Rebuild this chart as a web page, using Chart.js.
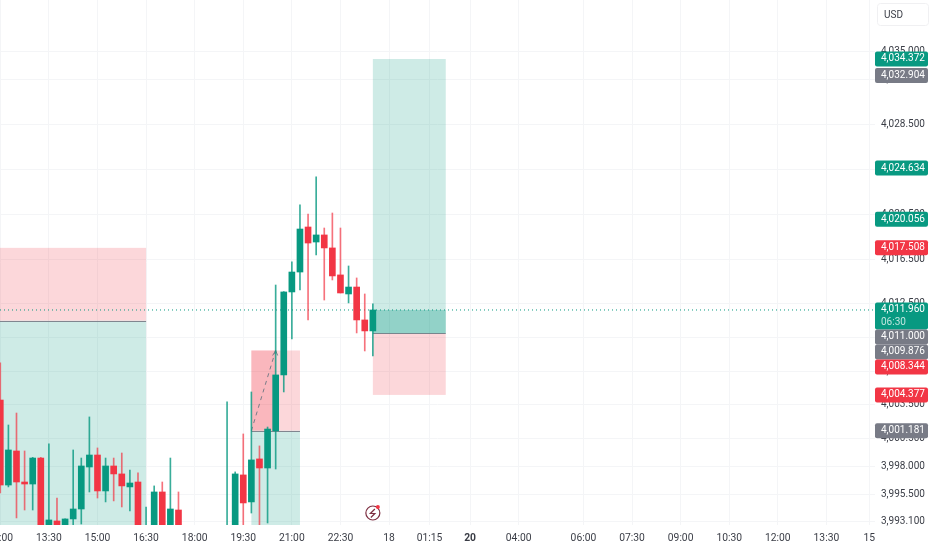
<!DOCTYPE html>
<html>
<head>
<meta charset="utf-8">
<style>
  html, body { margin: 0; padding: 0; background: #fff; }
  canvas { display: block; }
</style>
<script src="https://cdn.jsdelivr.net/npm/chart.js@4/dist/chart.umd.min.js"></script>
</head>
<body>
<canvas id="chart" width="932" height="550"></canvas>
<script>
// 15 minute candles, one entry per bar. null = bar sits fully below the visible range
const opens = [4003.92, 3996.33, 3999.37, 3996.60, 3996.42, 3998.74, 3992.30, 3993.12, 3992.40, 3993.30,
  3994.19, 3997.94, 3999.01, 3995.80, 3998.03, 3997.32, 3996.16, 3996.60, 3991.90, 3992.40,
  3995.71, 3992.50, 3994.10, null, null, null, null, null, 3991.60, 3992.40,
  3997.23, 3994.82, 3998.66, 3997.85, 4001.16, 4006.16, 4013.57, 4015.35, 4019.37, 4018.03,
  4018.66, 4017.50, 4015.09, 4013.39, 4014.01, 4011.07, 4010.09];
const closes = [3996.33, 3999.46, 3996.60, 3996.42, 3998.74, 3992.40, 3993.21, 3992.30, 3993.30, 3994.19,
  3998.03, 3999.01, 3995.80, 3998.03, 3997.32, 3996.25, 3996.51, 3992.40, 3992.50, 3995.71,
  3992.50, 3994.19, 3992.40, null, null, null, null, null, 3992.30, 3997.32,
  3994.73, 3998.57, 3997.85, 4001.33, 4006.16, 4013.57, 4015.35, 4019.19, 4017.94, 4018.66,
  4017.50, 4015.00, 4013.48, 4014.01, 4011.07, 4010.09, 4011.96];
const highs = [4007.23, 4001.69, 4002.76, 3999.37, 3998.80, 3998.80, 4000.00, 3995.17, 3993.30, 3999.46,
  3998.74, 4002.41, 3999.64, 3998.74, 3998.74, 3999.19, 3997.67, 3997.41, 3994.37, 3996.25,
  3996.60, 3998.74, 3995.71, null, null, null, null, null, 4003.75, 3997.50,
  4000.89, 4004.64, 3999.82, 4001.51, 4014.19, 4013.60, 4016.25, 4021.34, 4020.53, 4023.84,
  4019.28, 4020.62, 4019.28, 4015.89, 4014.82, 4013.39, 4012.50];
const lows = [3995.62, 3996.16, 3993.39, 3994.10, 3994.10, 3992.20, 3992.20, 3992.20, 3992.20, 3992.60,
  3992.85, 3995.71, 3995.17, 3994.82, 3994.91, 3994.37, 3994.01, 3992.20, 3991.50, 3992.10,
  3992.20, 3992.20, 3992.10, null, null, null, null, null, 3991.20, 3992.10,
  3992.30, 3993.83, 3992.40, 3992.94, 3997.76, 4004.64, 4009.37, 4013.75, 4011.07, 4016.87,
  4012.85, 4014.64, 4013.48, 4012.59, 4009.91, 4008.30, 4007.85];

const xTickBars = [0, 6, 12, 18, 24, 30, 36, 42, 48, 53, 58, 64, 72, 78, 84, 90, 96, 102, 107.3];
const xTickLabels = ['12:00', '13:30', '15:00', '16:30', '18:00', '19:30', '21:00', '22:30', '18', '01:15',
  '20', '04:00', '06:00', '07:30', '09:00', '10:30', '12:00', '13:30', '15'];
const boldXLabels = ['20'];
const yTickValues = [4035, 4032.5, 4028.5, 4024.5, 4020.5, 4016.5, 4012.5, 4009.5, 4006.5, 4003.5, 4000.5, 3998, 3995.5, 3993.1];

const priceLabelValues = [4034.372, 4032.904, 4024.634, 4020.056, 4017.508, 4011.96, 4011.0, 4009.876, 4008.344, 4004.377, 4001.181];
const priceLabelKinds = ['up', 'grey', 'up', 'up', 'down', 'up', 'grey', 'grey', 'down', 'down', 'grey'];
const countdown = '06:30';
const lastPrice = 4011.96;

// position tools: bar range plus stop / entry / far edge prices
const zoneFrom = [-1, 31, 46];
const zoneTo = [18, 37, 55];
const zoneRedEdge = [4017.508, 4008.344, 4004.377];
const zoneEntry = [4011.0, 4001.181, 4009.876];
const zoneGreenEdge = [3985, 3985, 4034.372];

const UP = '#089981';
const DOWN = '#f23645';
const UP_WICK = 'rgba(8, 153, 129, 0.8)';
const DOWN_WICK = 'rgba(242, 54, 69, 0.7)';
const GREY = '#787b86';
const TEXT = '#3a3d46';
const FONT = 'Roboto, sans-serif';
const labelColors = { up: UP, down: DOWN, grey: GREY };

const X_MIN = -0.037;
const X_MAX = 108;

const bodies = [];
const wicks = [];
const bodyColors = [];
const wickColors = [];
opens.forEach((open, i) => {
  if (open === null) return;
  const rising = closes[i] >= open;
  bodies.push({ x: i, y: [open, closes[i]] });
  wicks.push({ x: i, y: [lows[i], highs[i]] });
  bodyColors.push(rising ? UP : DOWN);
  wickColors.push(rising ? UP_WICK : DOWN_WICK);
});

const noPadding = () => ({ left: 0, top: 0, right: 0, bottom: 0 });

// Shaded long/short boxes, sits under the candles
const zonesPlugin = {
  id: 'zones',
  beforeDatasetsDraw(chart) {
    const { ctx, chartArea, scales: { x, y } } = chart;
    ctx.save();
    ctx.beginPath();
    ctx.rect(chartArea.left, chartArea.top, chartArea.width, chartArea.height);
    ctx.clip();
    zoneFrom.forEach((from, i) => {
      const left = x.getPixelForValue(from);
      const right = x.getPixelForValue(zoneTo[i]);
      const entry = y.getPixelForValue(zoneEntry[i]);
      const red = y.getPixelForValue(zoneRedEdge[i]);
      const green = y.getPixelForValue(zoneGreenEdge[i]);
      ctx.fillStyle = 'rgba(242, 54, 69, 0.2)';
      ctx.fillRect(left, Math.min(entry, red), right - left, Math.abs(red - entry));
      ctx.fillStyle = 'rgba(8, 153, 129, 0.2)';
      ctx.fillRect(left, Math.min(entry, green), right - left, Math.abs(green - entry));
      ctx.strokeStyle = 'rgba(120, 123, 134, 0.9)';
      ctx.lineWidth = 1;
      ctx.beginPath();
      ctx.moveTo(left, Math.round(entry) + 0.5);
      ctx.lineTo(right, Math.round(entry) + 0.5);
      ctx.stroke();
    });

    // closed trade in the middle box, darker part and dashed arrow
    const tradeLeft = x.getPixelForValue(31);
    const tradeRight = x.getPixelForValue(34);
    const tradeTop = y.getPixelForValue(4008.344);
    const tradeBottom = y.getPixelForValue(4001.181);
    ctx.fillStyle = 'rgba(242, 54, 69, 0.2)';
    ctx.fillRect(tradeLeft, tradeTop, tradeRight - tradeLeft, tradeBottom - tradeTop);
    ctx.strokeStyle = GREY;
    ctx.setLineDash([4, 4]);
    ctx.beginPath();
    ctx.moveTo(tradeLeft, tradeBottom);
    ctx.lineTo(tradeRight, tradeTop);
    ctx.stroke();
    ctx.setLineDash([]);
    ctx.beginPath();
    ctx.moveTo(tradeRight - 3, tradeTop + 5);
    ctx.lineTo(tradeRight, tradeTop);
    ctx.lineTo(tradeRight + 2, tradeTop + 5);
    ctx.stroke();

    // running trade on the last box
    const liveLeft = x.getPixelForValue(46);
    const liveRight = x.getPixelForValue(55);
    const liveTop = y.getPixelForValue(lastPrice);
    const liveBottom = y.getPixelForValue(4009.876);
    ctx.fillStyle = 'rgba(8, 153, 129, 0.3)';
    ctx.fillRect(liveLeft, liveTop, liveRight - liveLeft, liveBottom - liveTop);
    ctx.restore();
  }
};

// Price scale tags, pushed down when they would overlap
const priceTagsPlugin = {
  id: 'priceTags',
  afterDraw(chart) {
    const { ctx, chartArea, scales: { x, y } } = chart;
    const left = chartArea.right;
    const width = 53;
    const tagHeight = 15;
    let nextTop = -Infinity;
    ctx.save();
    ctx.font = `10px ${FONT}`;
    ctx.textBaseline = 'middle';
    ctx.textAlign = 'left';
    priceLabelValues.forEach((value, i) => {
      const isLast = value === lastPrice;
      const height = isLast ? 27 : tagHeight;
      const top = Math.max(y.getPixelForValue(value) - tagHeight / 2, nextTop);
      nextTop = top + height;
      ctx.fillStyle = labelColors[priceLabelKinds[i]];
      ctx.beginPath();
      ctx.roundRect(left, top, width, height, 2);
      ctx.fill();
      ctx.fillStyle = '#fff';
      ctx.fillText(value.toLocaleString('en-US', { minimumFractionDigits: 3 }), left + 6, top + tagHeight / 2);
      if (isLast) {
        ctx.fillStyle = 'rgba(255, 255, 255, 0.75)';
        ctx.fillText(countdown, left + 6, top + 20);
      }
    });

    // currency box above the scale
    ctx.strokeStyle = '#f0f0f2';
    ctx.lineWidth = 1;
    ctx.beginPath();
    ctx.roundRect(877.5, 3.5, 51, 22, 3);
    ctx.stroke();
    ctx.fillStyle = TEXT;
    ctx.fillText('USD', 884, 15);

    // session marker under the last candle
    const cx = x.getPixelForValue(46);
    const cy = chartArea.bottom - 12;
    ctx.strokeStyle = '#7d2f42';
    ctx.lineWidth = 1.2;
    ctx.beginPath();
    ctx.arc(cx, cy, 7, 0, Math.PI * 2);
    ctx.stroke();
    ctx.beginPath();
    ctx.moveTo(cx + 2, cy - 4);
    ctx.lineTo(cx - 2.5, cy + 0.5);
    ctx.lineTo(cx + 2, cy + 0.5);
    ctx.lineTo(cx - 2, cy + 4.5);
    ctx.stroke();
    ctx.fillStyle = DOWN;
    ctx.beginPath();
    ctx.arc(cx + 5, cy - 6, 2, 0, Math.PI * 2);
    ctx.fill();
    ctx.restore();
  }
};

new Chart(document.getElementById('chart'), {
  type: 'bar',
  data: {
    datasets: [
      { data: wicks, backgroundColor: wickColors, barThickness: 1, grouped: false },
      { data: bodies, backgroundColor: bodyColors, barThickness: 6, grouped: false },
      {
        type: 'line',
        data: [{ x: X_MIN, y: lastPrice }, { x: X_MAX, y: lastPrice }],
        borderColor: UP,
        borderWidth: 1,
        borderDash: [1, 3],
        pointRadius: 0
      }
    ]
  },
  options: {
    responsive: false,
    animation: false,
    layout: { padding: 0 },
    plugins: { legend: { display: false }, title: { display: false }, tooltip: { enabled: false } },
    scales: {
      x: {
        type: 'linear',
        offset: false,
        min: X_MIN,
        max: X_MAX,
        afterBuildTicks(axis) {
          axis.ticks = xTickBars.map(value => ({ value }));
        },
        afterFit(axis) {
          axis.height = 25;
          axis.getPadding = noPadding;
        },
        grid: { color: '#f4f5f7', drawTicks: false, offset: false },
        border: { display: false },
        ticks: {
          autoSkip: false,
          maxRotation: 0,
          padding: 7,
          color: TEXT,
          font: ctx => ({
            family: FONT,
            size: 10.3,
            weight: boldXLabels.includes(xTickLabels[ctx.index]) ? 'bold' : 'normal'
          }),
          callback: (value, index) => xTickLabels[index]
        }
      },
      y: {
        position: 'right',
        min: 3992.76,
        max: 4039.64,
        afterBuildTicks(axis) {
          axis.ticks = yTickValues.map(value => ({ value }));
        },
        afterFit(axis) {
          axis.width = 57;
          axis.getPadding = noPadding;
        },
        grid: { color: '#f4f5f7', drawTicks: false },
        border: { display: false },
        ticks: {
          autoSkip: false,
          padding: 6,
          color: TEXT,
          font: { family: FONT, size: 10 },
          callback: value => value.toLocaleString('en-US', { minimumFractionDigits: 3 })
        }
      }
    }
  },
  plugins: [zonesPlugin, priceTagsPlugin]
});
</script>
</body>
</html>
